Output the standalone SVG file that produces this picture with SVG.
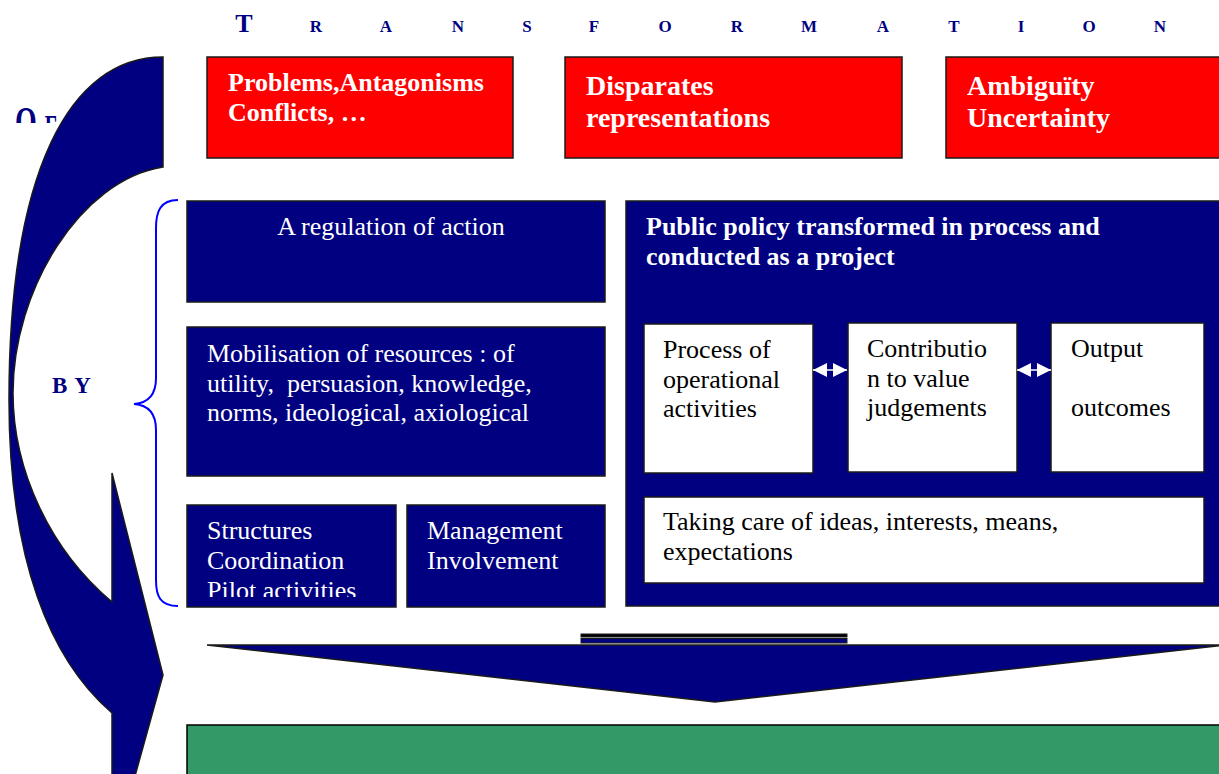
<svg xmlns="http://www.w3.org/2000/svg" width="1219" height="774" viewBox="0 0 1219 774">
<style>
  .navy{fill:#000080;stroke:#1a1a1a;stroke-width:1.5}
  .red{fill:#ff0000;stroke:#1a1a1a;stroke-width:1.5}
  .white{fill:#ffffff;stroke:#1a1a1a;stroke-width:1.5}
  .t{font-family:"Liberation Serif","Times New Roman",serif;white-space:pre}
  .wt{fill:#ffffff;font-size:26px}
  .bt{fill:#000000;font-size:26px}
  .rb{fill:#ffffff;font-weight:bold}
  .ttl{fill:#000080;font-weight:bold;text-anchor:middle}
</style>
<defs>
  <marker id="ah" viewBox="0 0 10 10" refX="10" refY="5" markerWidth="15" markerHeight="14" markerUnits="userSpaceOnUse" orient="auto-start-reverse">
    <path d="M0,0 L10,5 L0,10 z" fill="#ffffff"/>
  </marker>
  <clipPath id="clipOF"><rect x="0" y="90" width="120" height="33"/></clipPath>
  <clipPath id="clipS"><rect x="187" y="505" width="209" height="92"/></clipPath>
</defs>

<g id="title" class="t ttl">
  <text x="244" y="32" font-size="26">T</text>
  <text x="316" y="32" font-size="17">R</text>
  <text x="386" y="32" font-size="17">A</text>
  <text x="458" y="32" font-size="17">N</text>
  <text x="527" y="32" font-size="17">S</text>
  <text x="594" y="32" font-size="17">F</text>
  <text x="665" y="32" font-size="17">O</text>
  <text x="737" y="32" font-size="17">R</text>
  <text x="809" y="32" font-size="17">M</text>
  <text x="883" y="32" font-size="17">A</text>
  <text x="954" y="32" font-size="17">T</text>
  <text x="1021" y="32" font-size="17">I</text>
  <text x="1089" y="32" font-size="17">O</text>
  <text x="1160" y="32" font-size="17">N</text>
</g>

<g id="label-of" class="t" clip-path="url(#clipOF)">
  <text transform="translate(15,137) scale(1,1.6)" x="0" y="0" fill="#000080" font-weight="bold" font-size="28">O<tspan font-size="20" dx="8">F</tspan></text>
</g>

<g id="label-by" class="t">
  <text x="52" y="393" fill="#000080" font-weight="bold" font-size="23" letter-spacing="1">B Y</text>
</g>

<g id="curved-arrow">
  <path class="navy" d="M163,57 C70,57 9,170 9,400 C9,560 50,660 112,713 L112,776 L135,776 L163,675 L112,473 L112,602 C50,550 13,470 13,393 C13,290 80,180 163,167 Z"/>
</g>

<g id="brace">
  <path d="M178,200 C160,200 156,212 156,228 L156,378 C156,395 148,403 134,404 C148,405 156,413 156,430 L156,580 C156,596 160,606 178,606" fill="none" stroke="#0000ff" stroke-width="2"/>
</g>

<g id="problems">
  <rect class="red" x="207" y="57" width="306" height="101"/>
  <text class="t rb" font-size="26" x="228" y="91">Problems,Antagonisms</text>
  <text class="t rb" font-size="26" x="228" y="121">Conflicts, …</text>
</g>
<g id="disparates">
  <rect class="red" x="565" y="57" width="337" height="101"/>
  <text class="t rb" font-size="28" x="586" y="95">Disparates</text>
  <text class="t rb" font-size="28" x="586" y="127">representations</text>
</g>
<g id="ambiguity">
  <rect class="red" x="946" y="57" width="280" height="101"/>
  <text class="t rb" font-size="28" x="967" y="95">Ambiguïty</text>
  <text class="t rb" font-size="28" x="967" y="127">Uncertainty</text>
</g>

<g id="regulation">
  <rect class="navy" x="187" y="201" width="418" height="101"/>
  <text class="t wt" x="391" y="235" text-anchor="middle">A regulation of action</text>
</g>
<g id="mobilisation">
  <rect class="navy" x="187" y="327" width="418" height="149"/>
  <text class="t wt" x="207" y="362">Mobilisation of resources : of</text>
  <text class="t wt" x="207" y="392">utility,  persuasion, knowledge,</text>
  <text class="t wt" x="207" y="421">norms, ideological, axiological</text>
</g>
<g id="structures">
  <rect class="navy" x="187" y="505" width="209" height="102"/>
  <g clip-path="url(#clipS)">
    <text class="t wt" x="207" y="539">Structures</text>
    <text class="t wt" x="207" y="569">Coordination</text>
    <text class="t wt" x="207" y="599">Pilot activities</text>
  </g>
</g>
<g id="management">
  <rect class="navy" x="407" y="505" width="198" height="102"/>
  <text class="t wt" x="427" y="539">Management</text>
  <text class="t wt" x="427" y="569">Involvement</text>
</g>

<g id="public-policy">
  <rect class="navy" x="626" y="201" width="600" height="405"/>
  <text class="t rb" font-size="26" x="646" y="235">Public policy transformed in process and</text>
  <text class="t rb" font-size="26" x="646" y="265">conducted as a project</text>
</g>
<g id="process">
  <rect class="white" x="644" y="324" width="169" height="149"/>
  <text class="t bt" x="663" y="358">Process of</text>
  <text class="t bt" x="663" y="388">operational</text>
  <text class="t bt" x="663" y="417">activities</text>
</g>
<g id="contribution">
  <rect class="white" x="848" y="323" width="169" height="149"/>
  <text class="t bt" x="867" y="357">Contributio</text>
  <text class="t bt" x="867" y="387">n to value</text>
  <text class="t bt" x="867" y="416">judgements</text>
</g>
<g id="output">
  <rect class="white" x="1051" y="323" width="153" height="149"/>
  <text class="t bt" x="1071" y="357">Output</text>
  <text class="t bt" x="1071" y="416">outcomes</text>
</g>
<g id="taking-care">
  <rect class="white" x="644" y="497" width="560" height="86"/>
  <text class="t bt" x="663" y="530">Taking care of ideas, interests, means,</text>
  <text class="t bt" x="663" y="560">expectations</text>
</g>

<g id="connectors">
  <line x1="813" y1="370" x2="847" y2="370" stroke="#ffffff" stroke-width="1.5" marker-start="url(#ah)" marker-end="url(#ah)"/>
  <line x1="1017" y1="370" x2="1051" y2="370" stroke="#ffffff" stroke-width="1.5" marker-start="url(#ah)" marker-end="url(#ah)"/>
</g>

<g id="down-arrow">
  <rect x="581" y="634" width="266" height="3" fill="#000000" stroke="#1a1a1a" stroke-width="1"/>
  <rect x="581" y="638.5" width="266" height="4.5" fill="#000080" stroke="#1a1a1a" stroke-width="1"/>
  <path class="navy" d="M207,645 L1226,645 L715,702 Z"/>
</g>

<g id="result">
  <rect x="187" y="725" width="1040" height="60" fill="#339966" stroke="#000000" stroke-width="1.5"/>
</g>
</svg>
